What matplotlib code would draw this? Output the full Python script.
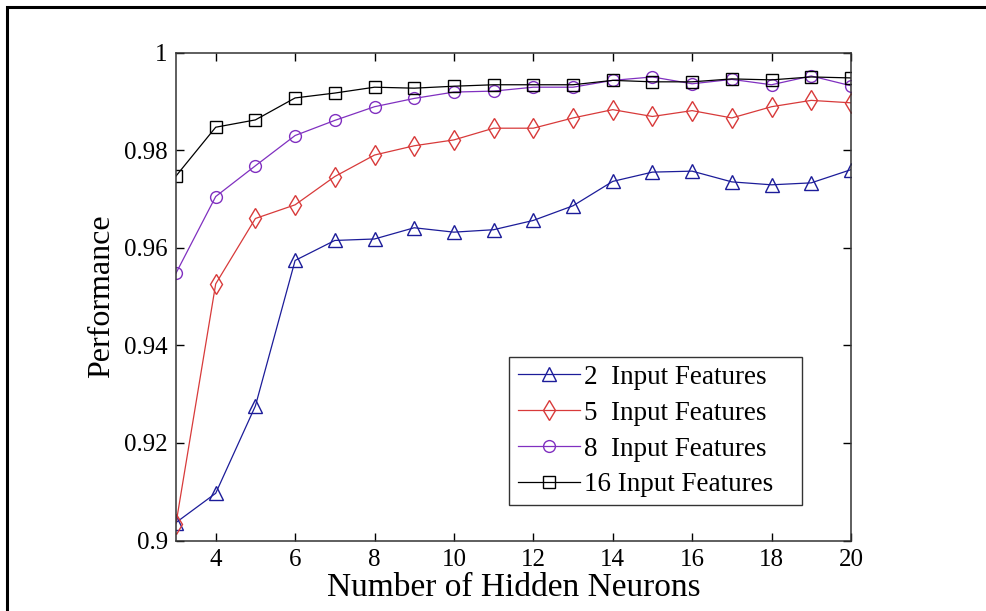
import numpy as np
import matplotlib
matplotlib.use("Agg")
import matplotlib.pyplot as plt
from matplotlib.patches import Rectangle

# hidden neurons on the x axis
neurons = list(range(3, 21))

# performance per number of input features
perf_2 = [0.9037, 0.9097, 0.9276, 0.9574, 0.9615, 0.9618, 0.9641, 0.9632, 0.9637,
          0.9656, 0.9686, 0.9736, 0.9755, 0.9757, 0.9735, 0.9729, 0.9733, 0.9760]
perf_5 = [0.9035, 0.9526, 0.9660, 0.9688, 0.9746, 0.9790, 0.9809, 0.9821, 0.9845,
          0.9845, 0.9866, 0.9883, 0.9869, 0.9881, 0.9866, 0.9889, 0.9902, 0.9897]
perf_8 = [0.9548, 0.9705, 0.9768, 0.9830, 0.9861, 0.9889, 0.9906, 0.9919, 0.9921,
          0.9929, 0.9929, 0.9943, 0.9950, 0.9936, 0.9945, 0.9934, 0.9952, 0.9932]
perf_16 = [0.9747, 0.9847, 0.9862, 0.9907, 0.9917, 0.9929, 0.9927, 0.9931, 0.9934,
           0.9934, 0.9934, 0.9943, 0.9940, 0.9940, 0.9946, 0.9944, 0.9950, 0.9948]

labels = ['2  Input Features', '5  Input Features', '8  Input Features', '16 Input Features']
xticks = [4, 6, 8, 10, 12, 14, 16, 18, 20]
yticks = [0.9, 0.92, 0.94, 0.96, 0.98, 1.0]
ytick_labels = ['0.9', '0.92', '0.94', '0.96', '0.98', '1']

plt.rcParams['font.family'] = ['Liberation Serif', 'DejaVu Serif']

fig = plt.figure(figsize=(9.86, 6.11), dpi=100)
ax = fig.add_axes([0.1785, 0.1152, 0.6845, 0.7988])

ax.plot(neurons, perf_2, color='#1c1c99', marker='^', markersize=9.5, mfc='none', lw=0.9, label=labels[0])
ax.plot(neurons, perf_5, color='#d83a3a', marker='d', markersize=10.5, mfc='none', lw=0.9, label=labels[1])
ax.plot(neurons, perf_8, color='#8030c0', marker='o', markersize=8.5, mfc='none', lw=0.9, label=labels[2])
ax.plot(neurons, perf_16, color='black', marker='s', markersize=8.5, mfc='none', lw=0.9, label=labels[3])

ax.set_xlim(3, 20)
ax.set_ylim(0.9, 1.0)
ax.set_xticks(xticks)
ax.set_yticks(yticks)
ax.set_yticklabels(ytick_labels)
ax.tick_params(direction='in', top=True, right=True, length=6, width=1, labelsize=18, pad=6)
for s in ax.spines.values():
    s.set_linewidth(1.1)
    s.set_color('#333333')

ax.set_xlabel('Number of Hidden Neurons', fontsize=24, labelpad=1)
ax.set_ylabel('Performance', fontsize=23, labelpad=6)

leg = ax.legend(loc='lower left', bbox_to_anchor=(0.494, 0.072, 0.433, 0.297), mode='expand',
                fontsize=19.5, frameon=True, fancybox=False, handlelength=2.3,
                handletextpad=0.15, labelspacing=0.4, borderaxespad=0, borderpad=0.3)
leg.get_frame().set_edgecolor('black')
leg.get_frame().set_linewidth(1.0)

# frame around the picture (cut at the bottom and right edge)
fig.patches.append(Rectangle((6.5 / 986, -0.1), 1.1, 1.1 - 7.5 / 611, transform=fig.transFigure,
                             fill=False, edgecolor='black', lw=2.2))

fig.savefig('out.png', dpi=100)
